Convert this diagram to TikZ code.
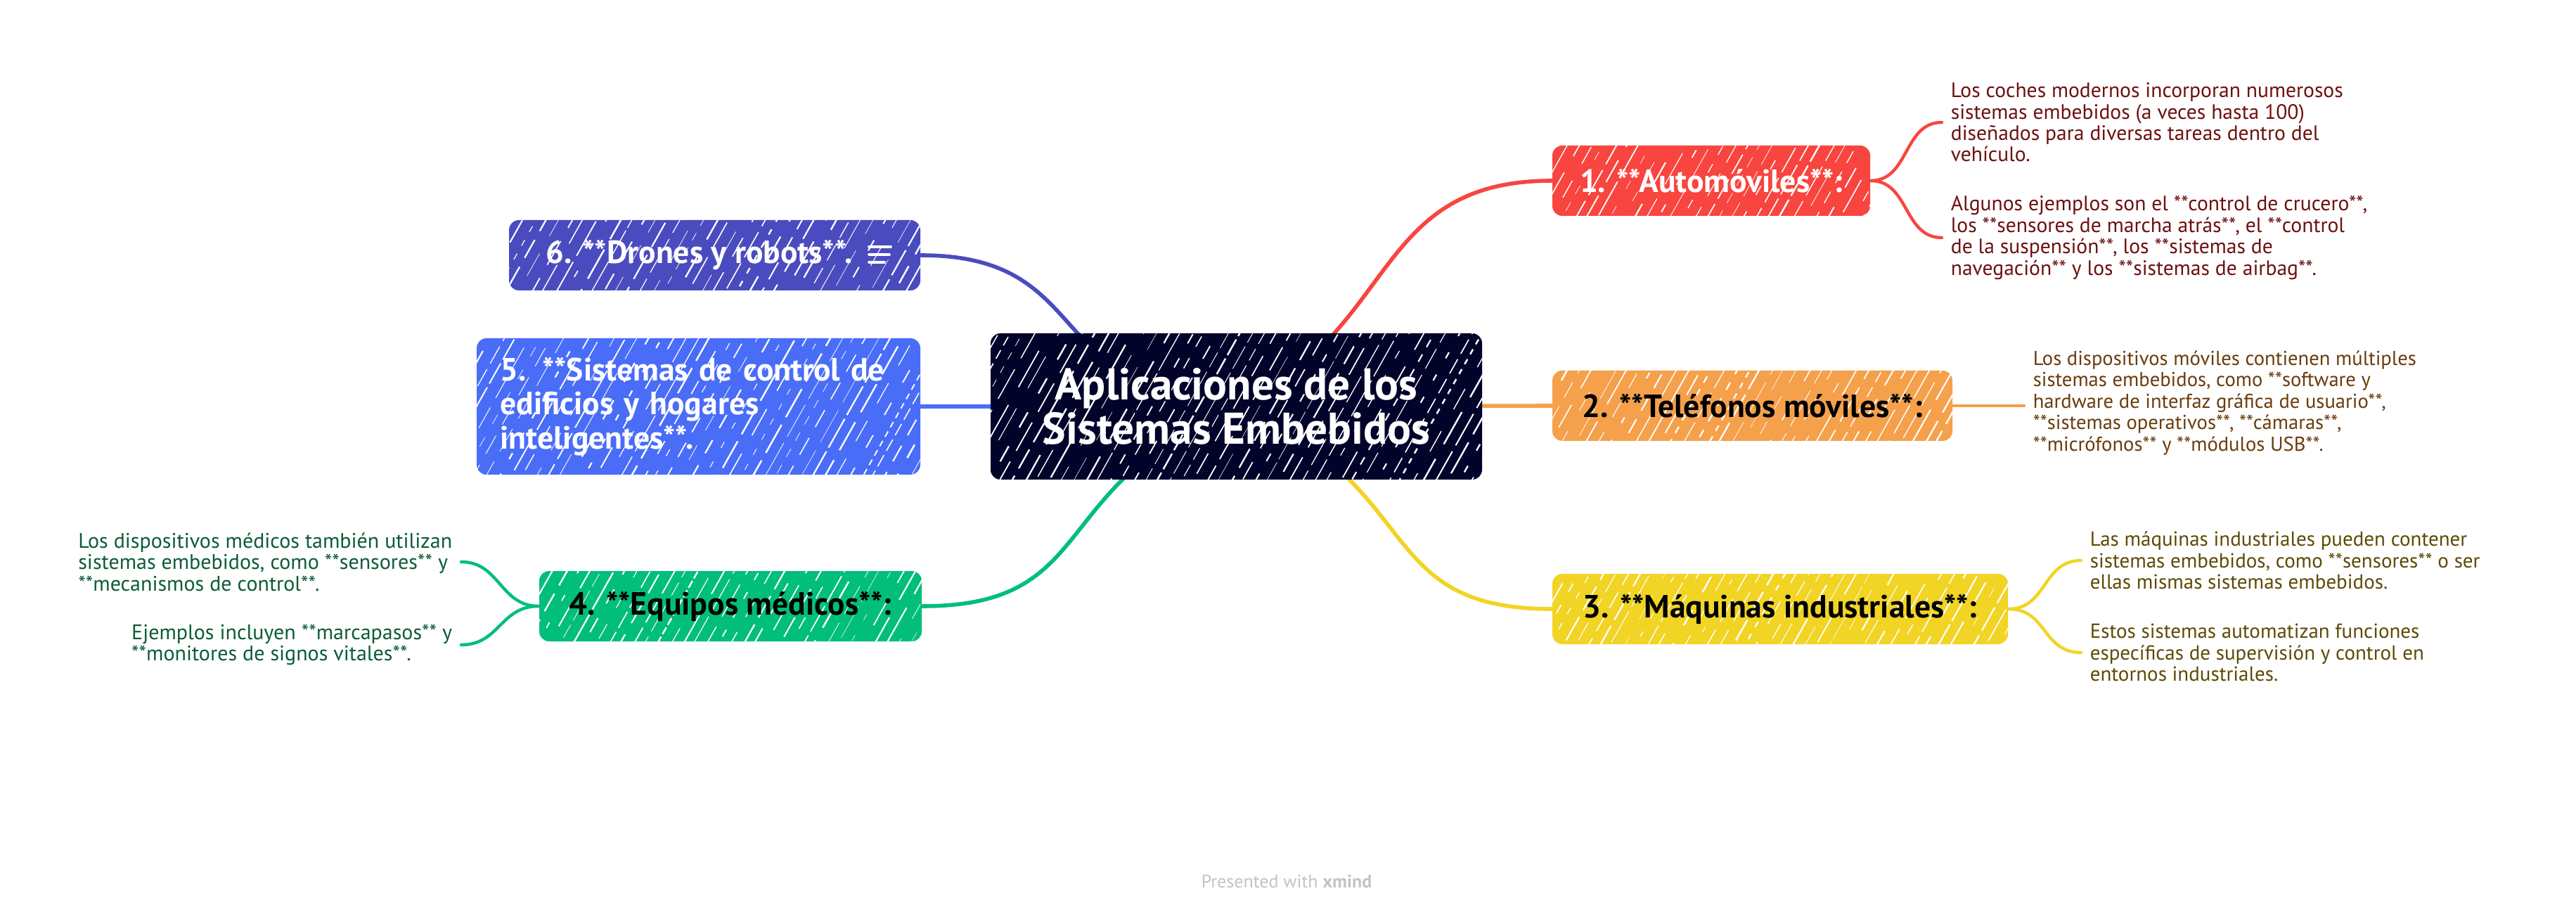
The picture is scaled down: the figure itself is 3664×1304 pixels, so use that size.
\documentclass[tikz,border=0pt]{standalone}
\usepackage{fontspec}
\setmainfont{PT Sans}
\definecolor{cnavy}{HTML}{02032A}
\definecolor{cred}{HTML}{F8453F}
\definecolor{corange}{HTML}{F5A04B}
\definecolor{cyellow}{HTML}{F1D424}
\definecolor{cgreen}{HTML}{02BE7B}
\definecolor{cblue}{HTML}{4A6DF8}
\definecolor{cindigo}{HTML}{4B4BC0}
\definecolor{tred}{HTML}{6E1010}
\definecolor{torange}{HTML}{6A3C0C}
\definecolor{tyellow}{HTML}{5C4B05}
\definecolor{tgreen}{HTML}{0C5C36}
\definecolor{wmgray}{HTML}{C4C4C4}
\pgfdeclarelayer{bg}
\pgfdeclarelayer{lines}
\pgfsetlayers{bg,lines,main}
\tikzset{
  hatch/.style={path picture={
    \foreach \k in {0,...,60}{
      \pgfmathsetmacro\da{2+13*rnd}
      \pgfmathsetmacro\db{1+8*rnd}
      \pgfmathsetmacro\dp{20*rnd}
      \pgfmathsetmacro\lw{0.12+0.5*rnd}
      \pgfmathsetmacro\jx{1.2*rnd}
      \draw[white, line width=\lw pt, dash pattern=on \da pt off \db pt, dash phase=\dp pt]
        ([xshift=\k*4.3pt+\jx pt-36pt, yshift=-1pt]path picture bounding box.south west) -- ++(36pt,64pt);
    }}},
  box/.style={rectangle, rounded corners=3.5pt, inner sep=0pt, align=center, hatch,
    font=\bfseries\fontsize{11.4}{12.2}\selectfont},
  conn/.style={line width=1.4pt, line cap=round},
  sub/.style={line width=1.1pt, line cap=round},
  detail/.style={inner xsep=3pt, inner ysep=0pt, align=left},
}
\begin{document}
\begin{tikzpicture}[x=0.25pt,y=-0.25pt]
\pgfmathsetseed{7}
\useasboundingbox (0,0) rectangle (3664,1304);
\begin{pgfonlayer}{bg}
\fill[white] (0,0) rectangle (3664,1304);
\end{pgfonlayer}

% main topics
\node[box, fill=cnavy, text=white, minimum width=174.75pt, minimum height=52pt,
  font=\bfseries\fontsize{15.8}{15.75}\selectfont] (c) at (1758.5,578) {Aplicaciones de los\\Sistemas Embebidos};
\node[box, fill=cred, text=white, minimum width=113pt, minimum height=25pt] (auto) at (2434,257) {1. **Automóviles**:};
\node[box, fill=corange, text=black, minimum width=142.25pt, minimum height=25pt] (tel) at (2492.5,577) {2. **Teléfonos móviles**:};
\node[box, fill=cyellow, text=black, minimum width=162pt, minimum height=25pt] (maq) at (2532,866) {3. **Máquinas industriales**:};
\node[box, fill=cgreen, text=black, minimum width=136pt, minimum height=25pt] (equ) at (1039,862) {4. **Equipos médicos**:};
\node[box, fill=cblue, text=white, minimum width=157.75pt, minimum height=48.5pt, text width=141pt, align=left] (n5) at (993.5,578) {5. **Sistemas de control de\\edificios y hogares\\inteligentes**.};
\node[box, fill=cindigo, text=white, minimum width=146.25pt, minimum height=25pt] (n6) at (1016.5,363) {6. **Drones y robots**.\hspace{11pt}};
\draw[white, line width=0.9pt, line cap=round] (1236,351) -- (1267,351) (1236,362) -- (1265,362) (1236,373) -- (1258,373);

% detail texts
\node[detail, text=tred, anchor=west, font=\fontsize{7.4}{7.6}\selectfont] (a1) at (2762,174) {Los coches modernos incorporan numerosos\\sistemas embebidos (a veces hasta 100)\\diseñados para diversas tareas dentro del\\vehículo.};
\node[detail, text=tred, anchor=west, font=\fontsize{7.4}{7.6}\selectfont] (a2) at (2762,338) {Algunos ejemplos son el **control de crucero**,\\los **sensores de marcha atrás**, el **control\\de la suspensión**, los **sistemas de\\navegación** y los **sistemas de airbag**.};
\node[detail, text=torange, anchor=west, font=\fontsize{7.15}{7.6}\selectfont] (t1) at (2879,573) {Los dispositivos móviles contienen múltiples\\sistemas embebidos, como **software y\\hardware de interfaz gráfica de usuario**,\\**sistemas operativos**, **cámaras**,\\**micrófonos** y **módulos USB**.};
\node[detail, text=tyellow, anchor=west, font=\fontsize{7.25}{7.6}\selectfont] (m1) at (2960,797) {Las máquinas industriales pueden contener\\sistemas embebidos, como **sensores** o ser\\ellas mismas sistemas embebidos.};
\node[detail, text=tyellow, anchor=west, font=\fontsize{7.25}{7.6}\selectfont] (m2) at (2960,928) {Estos sistemas automatizan funciones\\específicas de supervisión y control en\\entornos industriales.};
\node[detail, text=tgreen, anchor=east, font=\fontsize{7.5}{7.6}\selectfont] (e1) at (656,799) {Los dispositivos médicos también utilizan\\sistemas embebidos, como **sensores** y\\**mecanismos de control**.};
\node[detail, text=tgreen, anchor=east, font=\fontsize{7.5}{7.6}\selectfont] (e2) at (656,917) {Ejemplos incluyen **marcapasos** y\\**monitores de signos vitales**.};

\node[text=wmgray, font=\fontsize{6.5}{7}\selectfont, inner sep=0pt] (wm) at (1830,1253) {Presented with \textbf{xmind}};

% connectors
\begin{pgfonlayer}{lines}
\draw[conn, cred] (c.center) .. controls (1990,470) and (1950,257) .. (auto.west);
\draw[conn, corange] (c.center) -- (tel.west);
\draw[conn, cyellow] (c.center) .. controls (2030,690) and (1950,866) .. (maq.west);
\draw[conn, cgreen] (c.center) .. controls (1486,690) and (1566,862) .. (equ.east);
\draw[conn, cblue] (c.center) -- (n5.east);
\draw[conn, cindigo] (c.center) .. controls (1480,560) and (1560,363) .. (n6.east);

\draw[sub, cred] (auto.east) .. controls +(55,0) and +(-55,0) .. (a1.west);
\draw[sub, cred] (auto.east) .. controls +(55,0) and +(-55,0) .. (a2.west);
\draw[sub, corange] (tel.east) -- (t1.west |- tel.east);
\draw[sub, cyellow] (maq.east) .. controls +(55,0) and +(-55,0) .. (m1.west);
\draw[sub, cyellow] (maq.east) .. controls +(55,0) and +(-55,0) .. (m2.west);
\draw[sub, cgreen] (equ.west) .. controls +(-55,0) and +(55,0) .. (e1.east);
\draw[sub, cgreen] (equ.west) .. controls +(-55,0) and +(55,0) .. (e2.east);
\end{pgfonlayer}
\end{tikzpicture}
\end{document}
